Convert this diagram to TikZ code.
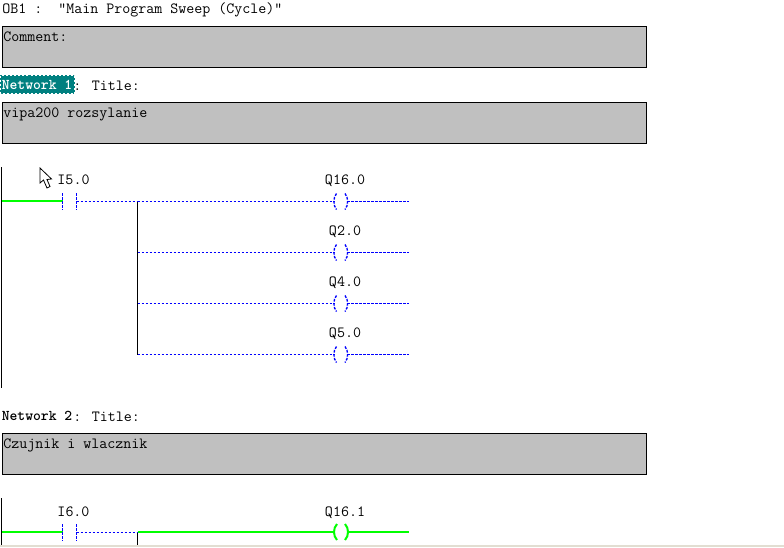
\documentclass[tikz,border=0pt]{standalone}
\usepackage{fontspec}
\definecolor{boxgrey}{RGB}{192,192,192}
\definecolor{livegreen}{RGB}{0,255,0}
\definecolor{offblue}{RGB}{0,0,255}
\definecolor{selteal}{RGB}{0,128,128}
\definecolor{barbeige}{RGB}{226,222,210}
\tikzset{
  px/.style={x=0.75pt,y=-0.75pt},
  txt/.style={inner sep=0pt,anchor=base west,font=\ttfamily\fontsize{11.66}{13}\selectfont,text=black},
  btxt/.style={txt,font=\ttfamily\bfseries\fontsize{11.2}{13}\selectfont},
  commentbox/.style={draw=black,line width=0.75pt,fill=boxgrey},
  rail/.style={draw=black,line width=0.75pt},
  live/.style={draw=livegreen,line width=1.5pt},
  off/.style={draw=offblue,line width=1pt,dash pattern=on 2pt off 1pt},
  addr/.style={txt,anchor=base},
}
\begin{document}
\begin{tikzpicture}[px]
\useasboundingbox (0,0) rectangle (784,547);
\fill[white] (0,0) rectangle (784,547);
\fill[barbeige] (0,545) rectangle (784,547);
% header
\node[txt] (ob) at (2,13) {OB1 :\ \ "Main Program Sweep (Cycle)"};
\draw[commentbox] (2.5,26.5) rectangle (646.5,67.5);
\node[txt] (c0) at (3,41) {Comment:};
% network 1
\fill[selteal] (0,75) rectangle (74.5,94);
\draw[white,line width=0.75pt,dash pattern=on 1.5pt off 1.5pt] (0.5,75.5) rectangle (74.5,93.5);
\node[btxt,text=white] (n1) at (1.5,89.5) {Network 1};
\node[txt] (t1) at (73,90) {: Title:};
\draw[commentbox] (2.5,102.5) rectangle (646.5,143.5);
\node[txt] (c1) at (3,117) {vipa200 rozsylanie};
\draw[black,fill=white,line width=0.6pt] (40,168) -- (40,183) -- (43.5,180) -- (47,188) -- (50,186.5) -- (47,179.5) -- (51.5,179) -- cycle;
% ladder 1
\coordinate (r1t) at (1.5,167); \coordinate (r1b) at (1.5,388);
\coordinate (a0) at (2,201); \coordinate (a1) at (62.5,201.5); \coordinate (a2) at (76.5,201.5);
\coordinate (j1) at (137.5,201.5); \coordinate (j4) at (137.5,354.5);
\draw[rail] (r1t) -- (r1b);
\draw[live] (a0) -- (a1 |- a0);
\draw[off] (a1)+(0,-8.5) -- +(0,8);
\draw[off] (a2)+(0,-8.5) -- +(0,8);
\node[addr] (i5) at (73.5,184.5) {I5.0};
\draw[off] (a2) -- (j1);
\foreach \n/\lab/\y in {q0/Q16.0/201.5, q1/Q2.0/252.5, q2/Q4.0/303.5, q3/Q5.0/354.5}{
  \coordinate (\n l) at (334,\y); \coordinate (\n r) at (347,\y);
  \coordinate (\n s) at (137.5,\y); \coordinate (\n e) at (409,\y);
  \draw[off] (\n s) -- (\n l);
  \draw[off] (\n r) -- (\n e);
  \draw[off] (336.5,\y-8) .. controls (333,\y-4) and (333,\y+4) .. (336.5,\y+8);
  \draw[off] (345,\y-8) .. controls (348.5,\y-4) and (348.5,\y+4) .. (345,\y+8);
  \node[addr] (\n t) at (345,\y-17) {\lab};
}
\draw[rail] (j1) -- (j4);
% network 2
\node[btxt] (n2) at (1.5,420) {Network 2};
\node[txt] (t2) at (73,421) {: Title:};
\draw[commentbox] (2.5,433.5) rectangle (646.5,474.5);
\node[txt] (c2) at (3,448) {Czujnik i wlacznik};
\coordinate (r2t) at (1.5,498); \coordinate (r2b) at (1.5,545);
\coordinate (b0) at (2,532); \coordinate (b1) at (62.5,532.5); \coordinate (b2) at (76.5,532.5);
\coordinate (k1) at (137.5,532.5); \coordinate (k2) at (137.5,545);
\coordinate (cl) at (334,532); \coordinate (cr) at (347,532); \coordinate (ce) at (409,532);
\draw[rail] (r2t) -- (r2b);
\draw[live] (b0) -- (b1 |- b0);
\draw[off] (b1)+(0,-8.5) -- +(0,8);
\draw[off] (b2)+(0,-8.5) -- +(0,8);
\node[addr] (i6) at (73.5,516) {I6.0};
\draw[off] (b2) -- (k1);
\draw[rail] (k1) -- (k2);
\draw[live] (k1 |- cl) -- (cl);
\draw[live] (cr) -- (ce);
\draw[live] (337,524) .. controls (333,528) and (333,536) .. (337,540);
\draw[live] (345,524) .. controls (349,528) and (349,536) .. (345,540);
\node[addr] (q6) at (345,516) {Q16.1};
\end{tikzpicture}
\end{document}
